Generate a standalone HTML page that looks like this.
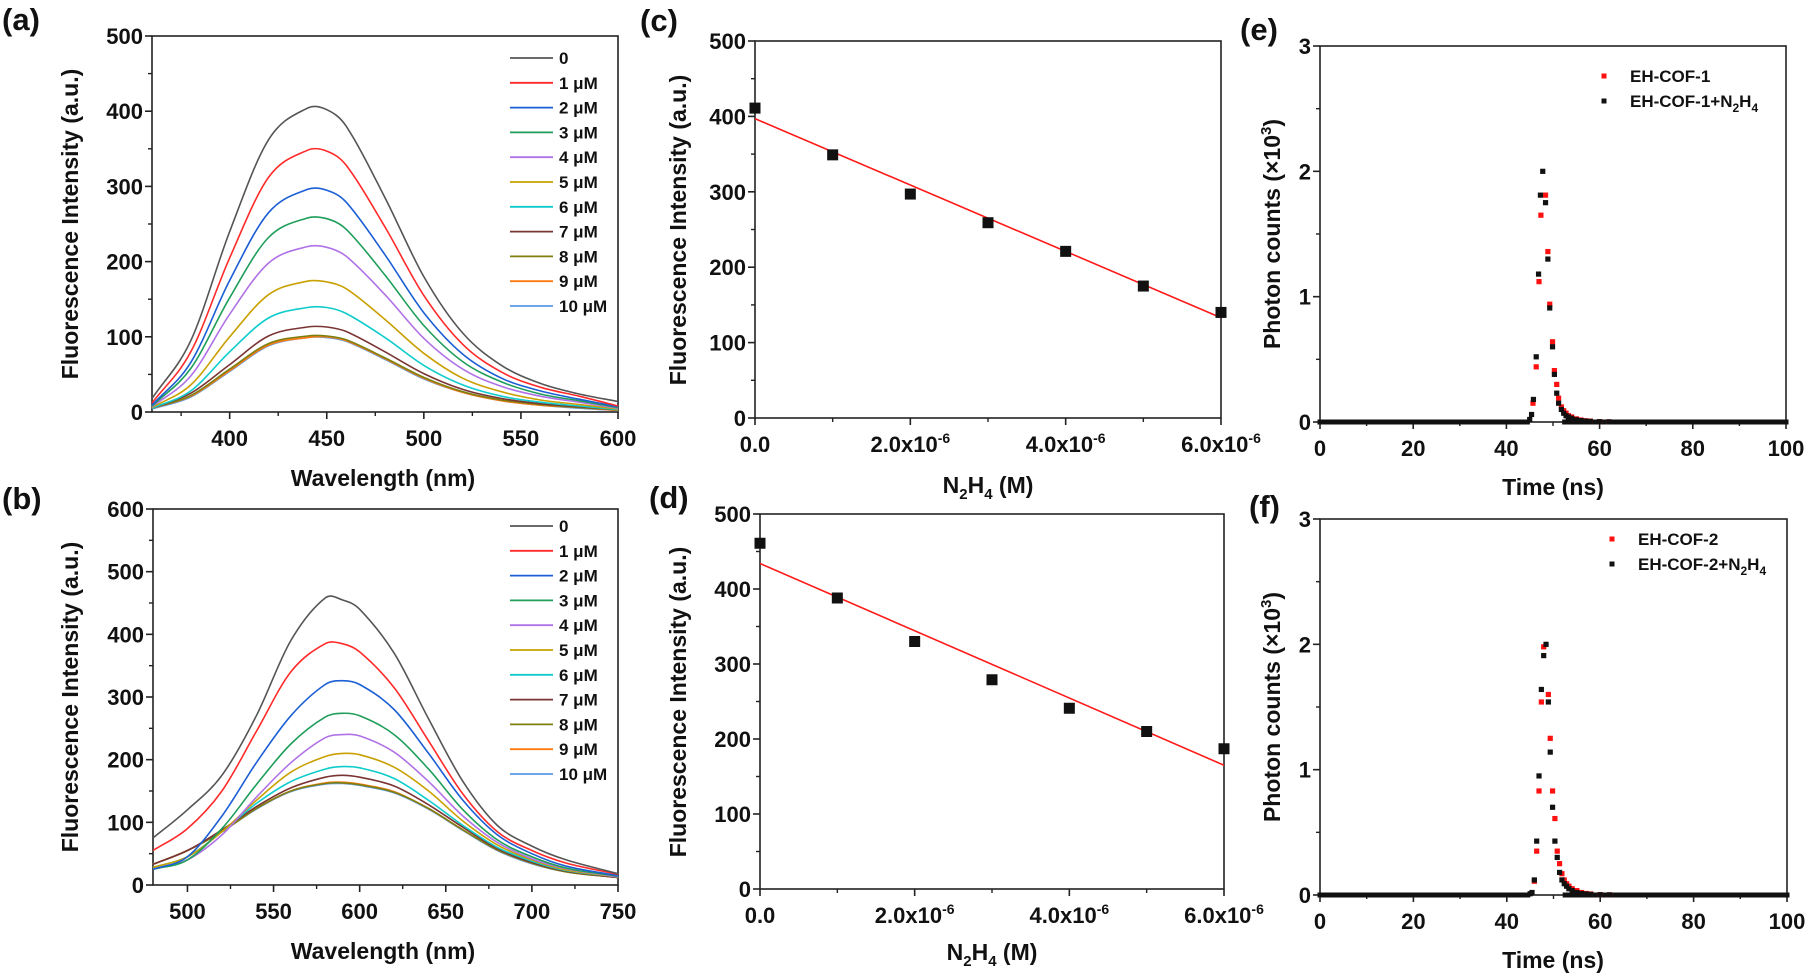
<!DOCTYPE html>
<html><head><meta charset="utf-8">
<style>
html,body{margin:0;padding:0;background:#fff;}
svg{display:block;font-family:"Liberation Sans",Arial,sans-serif;}
</style></head>
<body>
<svg id="fig" width="1808" height="976" viewBox="0 0 1808 976" xmlns="http://www.w3.org/2000/svg"></svg>
<script>
// ---------- Data ----------
const seriesLabels = ["0","1 μM","2 μM","3 μM","4 μM","5 μM","6 μM","7 μM","8 μM","9 μM","10 μM"];
const seriesColors = ["#555555","#ff2a2a","#1c5fd4","#1f9e5a","#b072e6","#c9a000","#10cccc","#7a3434","#7f7f10","#ff7a10","#5a9ae6"];

const aWavelengths = [360,380,400,420,440,450,460,480,500,520,540,560,580,600];
const aS0  = [18,95,240,362,404,402,380,285,180,105,62,38,24,14];
const aS1  = [12,80,205,312,348,347,328,246,155,90,53,33,21,8];
const aS2  = [9,66,175,265,296,295,279,209,132,77,45,28,17,7];
const aS3  = [8,58,152,232,258,257,243,182,115,67,40,24,15,6];
const aS4  = [7,48,130,198,220,219,207,156,98,57,34,21,13,5];
const aS5  = [6,36,100,156,174,173,164,123,78,45,27,16,10,4];
const aS6  = [5,28,80,125,139,139,131,99,62,36,21,13,8,3];
const aS7  = [5,25,63,101,113,113,107,80,51,30,18,11,7,3];
const aS8  = [5,22,57,91,101,101,96,72,46,27,16,10,6,3];
const aS9  = [5,21,55,89,99,100,95,71,45,26,15,9,6,2];
const aS10 = [4,20,54,88,99,99,94,70,44,26,15,9,5,2];

const bWavelengths = [480,500,520,540,560,580,590,600,620,640,660,680,700,720,750];
const bS0  = [75,120,175,270,390,458,455,440,370,265,165,95,62,40,18];
const bS1  = [55,90,150,245,340,385,385,372,315,230,145,85,55,35,17];
const bS2  = [25,45,110,195,270,320,326,320,280,210,135,80,50,30,15];
const bS3  = [25,40,90,160,225,268,274,270,240,185,120,72,45,27,14];
const bS4  = [25,40,80,140,195,235,240,238,212,165,110,68,42,26,13];
const bS5  = [28,45,85,135,180,205,210,208,188,150,102,64,40,24,13];
const bS6  = [28,45,85,130,165,185,189,187,170,135,95,60,38,23,13];
const bS7  = [33,55,88,125,155,172,175,172,158,128,92,58,36,22,12];
const bS8  = [33,55,85,122,150,162,163,160,148,122,88,56,35,21,12];
const bS9  = [33,55,85,122,150,163,164,161,149,122,88,56,35,21,12];
const bS10 = [33,55,85,121,149,161,162,159,147,121,87,55,34,21,12];

const cConc = [0,1,2,3,4,5,6]; // ×1e-6 M
const cIntensity = [411,349,297,259,221,175,140];
const cFit = [397,133]; // fit line at x=0 and x=6
const dConc = [0,1,2,3,4,5,6];
const dIntensity = [461,388,330,279,241,210,187];
const dFit = [434,165];

const eTimeRed = [45.7,46.4,47.0,47.4,48.4,48.9,49.3,49.9,50.3,50.8,51.2,51.8,52.3,52.8,53.3,54,55,56,57,58,60,62];
const eCountRed = [0.15,0.44,1.12,1.65,1.81,1.36,0.94,0.64,0.41,0.30,0.19,0.12,0.09,0.07,0.05,0.04,0.025,0.016,0.01,0.007,0.003,0.001];
const eTimeBlack = [45.0,45.4,45.8,46.4,46.9,47.3,47.8,48.4,48.9,49.3,49.9,50.3,50.8,51.2,51.8,52.3,52.8,53.3,54,55,56,57,58,60,62];
const eCountBlack = [0.02,0.06,0.18,0.52,1.18,1.81,2.0,1.75,1.30,0.91,0.60,0.38,0.23,0.15,0.10,0.07,0.05,0.04,0.03,0.018,0.011,0.007,0.005,0.002,0.001];

const fTimeRed = [45.9,46.4,46.9,47.4,47.9,48.9,49.3,49.8,50.3,50.8,51.3,51.8,52.3,52.8,53.3,54,55,56,57,58,60,62];
const fCountRed = [0.11,0.35,0.83,1.54,1.98,1.60,1.25,0.83,0.61,0.35,0.25,0.17,0.12,0.09,0.07,0.05,0.035,0.02,0.012,0.008,0.003,0.001];
const fTimeBlack = [45.0,45.4,45.9,46.4,46.9,47.4,47.9,48.4,48.9,49.3,49.8,50.3,50.8,51.3,51.8,52.3,52.8,53.3,54,55,56,57,58,60,62];
const fCountBlack = [0.01,0.02,0.12,0.43,0.95,1.64,1.91,2.0,1.54,1.14,0.70,0.43,0.30,0.18,0.12,0.09,0.07,0.05,0.035,0.02,0.012,0.008,0.005,0.002,0.001];

// ---------- Helpers ----------
const NS = "http://www.w3.org/2000/svg";
const svg = document.getElementById('fig');
function mk(tag, attrs, parent){
  const e = document.createElementNS(NS, tag);
  for (const k in attrs) e.setAttribute(k, attrs[k]);
  (parent||svg).appendChild(e);
  return e;
}
function scale(d0,d1,r0,r1){ return v => r0 + (v-d0)/(d1-d0)*(r1-r0); }

// Hermite spline aware of uneven x spacing (pixel space)
function smoothPath(pts){
  const n = pts.length, m = [];
  for (let i=0;i<n;i++){
    const a = pts[Math.max(0,i-1)], b = pts[Math.min(n-1,i+1)];
    m.push((b[1]-a[1])/(b[0]-a[0]));
  }
  let d = "M"+pts[0][0].toFixed(1)+","+pts[0][1].toFixed(1);
  for (let i=0;i<n-1;i++){
    const p1=pts[i], p2=pts[i+1], h=(p2[0]-p1[0])/3;
    d += " C"+(p1[0]+h).toFixed(1)+","+(p1[1]+m[i]*h).toFixed(1)+" "+(p2[0]-h).toFixed(1)+","+(p2[1]-m[i+1]*h).toFixed(1)+" "+p2[0].toFixed(1)+","+p2[1].toFixed(1);
  }
  return d;
}

function axes(g, box, xd, yd, xMajor, xMinor, yMajor, yMinor, xFmt, yFmt){
  const sx = scale(xd[0],xd[1],box.l,box.r), sy = scale(yd[0],yd[1],box.b,box.t);
  const frame = mk('rect',{x:box.l,y:box.t,width:box.r-box.l,height:box.b-box.t,fill:'none',stroke:'#222','stroke-width':1.6},g);
  
  
  const xa = mk('g',{},g);
  
  
  xMinor.forEach(v=>{ mk('line',{x1:sx(v),x2:sx(v),y1:box.b,y2:box.b+4,stroke:'#222','stroke-width':1.4},xa); });
  xMajor.forEach(v=>{
    mk('line',{x1:sx(v),x2:sx(v),y1:box.b,y2:box.b+7,stroke:'#222','stroke-width':1.6},xa);
    const t = mk('text',{x:sx(v),y:box.b+34,'text-anchor':'middle','font-size':22,'font-weight':'bold',fill:'#111'},xa);
    
    
    xFmt(t,v);
  });
  const ya = mk('g',{},g);
  
  
  yMinor.forEach(v=>{ mk('line',{x1:box.l-4,x2:box.l,y1:sy(v),y2:sy(v),stroke:'#222','stroke-width':1.4},ya); });
  yMajor.forEach(v=>{
    mk('line',{x1:box.l-7,x2:box.l,y1:sy(v),y2:sy(v),stroke:'#222','stroke-width':1.6},ya);
    const t = mk('text',{x:box.l-9,y:sy(v)+8,'text-anchor':'end','font-size':22,'font-weight':'bold',fill:'#111'},ya);
    
    
    t.textContent = yFmt(v);
  });
  return {sx,sy};
}
function plainFmt(t,v){ t.textContent = String(v); }
function sciFmt(t,v){
  if (v===0){ t.textContent="0.0"; return; }
  t.appendChild(document.createTextNode(v.toFixed(1)+"x10"));
  const s = mk('tspan',{dy:-9,'font-size':14},t); s.textContent="-6";
}
function panelLabel(txt,x,y,name){
  const t = mk('text',{x:x,y:y,'font-size':31,'font-weight':'bold',fill:'#111'});
  
  
  t.textContent = txt;
}
function yTitle(g,cx,cy,builder){
  const t = mk('text',{x:0,y:0,transform:`translate(${cx},${cy}) rotate(-90)`,'text-anchor':'middle','font-size':23,'font-weight':'bold',fill:'#111'},g);
  
  
  builder(t);
}
function xTitle(g,cx,cy,builder){
  const t = mk('text',{x:cx,y:cy,'text-anchor':'middle','font-size':23,'font-weight':'bold',fill:'#111'},g);
  
  
  builder(t);
}
function n2h4(t, tail){
  t.appendChild(document.createTextNode("N"));
  let s = mk('tspan',{dy:6,'font-size':15},t); s.textContent="2";
  s = mk('tspan',{dy:-6},t); s.textContent="H";
  s = mk('tspan',{dy:6,'font-size':15},t); s.textContent="4";
  s = mk('tspan',{dy:-6},t); s.textContent=tail;
}

// ---------- Spectra panels (a),(b) ----------
function spectra(name, box, xd, yd, xMajor, xMinor, yMajor, yMinor, xs, series, legY){
  const g = mk('g',{});  
  const {sx,sy} = axes(g,box,xd,yd,xMajor,xMinor,yMajor,yMinor,plainFmt,v=>String(v));
  for (let i=series.length-1;i>=0;i--){
    const pts = xs.map((x,j)=>[sx(x),sy(series[i][j])]);
    const p = mk('path',{d:smoothPath(pts),fill:'none',stroke:seriesColors[i],'stroke-width':1.6},g);
    
    
  }
  const lg = mk('g',{},g);  
  seriesLabels.forEach((lab,i)=>{
    const y = legY + i*24.8;
    const e = mk('g',{},lg);
    
    
    mk('line',{x1:510,x2:553,y1:y,y2:y,stroke:seriesColors[i],'stroke-width':1.8},e);
    const t = mk('text',{x:559,y:y+6,'font-size':17,'font-weight':'bold',fill:'#111'},e);
    t.textContent = lab;
  });
  return g;
}
const ga = spectra('panel-a-spectra',{l:152,r:618,t:36,b:412},[360,600],[0,500],[400,450,500,550,600],[375,425,475,525,575],[0,100,200,300,400,500],[50,150,250,350,450],aWavelengths,[aS0,aS1,aS2,aS3,aS4,aS5,aS6,aS7,aS8,aS9,aS10],58);
yTitle(ga,78,224,t=>t.textContent="Fluorescence Intensity (a.u.)");
xTitle(ga,383,486,t=>t.textContent="Wavelength (nm)");
const gb = spectra('panel-b-spectra',{l:153,r:618,t:509,b:885},[480,750],[0,600],[500,550,600,650,700,750],[525,575,625,675,725],[0,100,200,300,400,500,600],[50,150,250,350,450,550],bWavelengths,[bS0,bS1,bS2,bS3,bS4,bS5,bS6,bS7,bS8,bS9,bS10],526);
yTitle(gb,78,697,t=>t.textContent="Fluorescence Intensity (a.u.)");
xTitle(gb,383,959,t=>t.textContent="Wavelength (nm)");

// ---------- Linear fit panels (c),(d) ----------
function linear(name, box, xs, ys, fit){
  const g = mk('g',{});  
  const {sx,sy} = axes(g,box,[0,6],[0,500],[0,2,4,6],[1,3,5],[0,100,200,300,400,500],[50,150,250,350,450],sciFmt,v=>String(v));
  const l = mk('line',{x1:sx(0),y1:sy(fit[0]),x2:sx(6),y2:sy(fit[1]),stroke:'#ff1a1a','stroke-width':1.6},g);
   
  xs.forEach((x,i)=>{
    const r = mk('rect',{x:sx(x)-5.5,y:sy(ys[i])-5.5,width:11,height:11,fill:'#111'},g);
     
  });
  return g;
}
const gc = linear('panel-c-calibration',{l:755,r:1221,t:41,b:418},cConc,cIntensity,cFit);
yTitle(gc,686,230,t=>t.textContent="Fluorescence Intensity (a.u.)");
xTitle(gc,988,493,t=>n2h4(t," (M)"));
const gd = linear('panel-d-calibration',{l:760,r:1224,t:514,b:889},dConc,dIntensity,dFit);
yTitle(gd,686,702,t=>t.textContent="Fluorescence Intensity (a.u.)");
xTitle(gd,992,960,t=>n2h4(t," (M)"));

// ---------- Decay panels (e),(f) ----------
function decay(name, box, tr, cr, tb, cb, legLabel, legX, legY){
  const g = mk('g',{});  
  const {sx,sy} = axes(g,box,[0,100],[0,3],[0,20,40,60,80,100],[10,30,50,70,90],[0,1,2,3],[0.5,1.5,2.5],plainFmt,v=>String(v));
  const bl = mk('g',{},g);  
  for (let t=0;t<=100;t+=0.5){
    if (t>=45 && t<=52) continue;
    mk('rect',{x:sx(t)-2.5,y:sy(0)-2.5,width:5,height:5,fill:'#111'},bl);
  }
  tr.forEach((t,i)=>{
    const r = mk('rect',{x:sx(t)-2.6,y:sy(cr[i])-2.6,width:5.2,height:5.2,fill:'#ff1010'},g);
     
  });
  tb.forEach((t,i)=>{
    const r = mk('rect',{x:sx(t)-2.6,y:sy(cb[i])-2.6,width:5.2,height:5.2,fill:'#111'},g);
     
  });
  const lg = mk('g',{},g);  
  const e1 = mk('g',{},lg);  
  mk('rect',{x:legX-2.5,y:legY-2.5,width:5,height:5,fill:'#ff1010'},e1);
  let t1 = mk('text',{x:legX+26,y:legY+6,'font-size':17,'font-weight':'bold',fill:'#111'},e1); t1.textContent=legLabel;
  const e2 = mk('g',{},lg);  
  mk('rect',{x:legX-2.5,y:legY+25-2.5,width:5,height:5,fill:'#111'},e2);
  let t2 = mk('text',{x:legX+26,y:legY+31,'font-size':17,'font-weight':'bold',fill:'#111'},e2);
  t2.appendChild(document.createTextNode(legLabel+"+N"));
  let s = mk('tspan',{dy:5,'font-size':12},t2); s.textContent="2";
  s = mk('tspan',{dy:-5},t2); s.textContent="H";
  s = mk('tspan',{dy:5,'font-size':12},t2); s.textContent="4";
  return g;
}
function photonTitle(t){
  t.appendChild(document.createTextNode("Photon counts (×10"));
  let s = mk('tspan',{dy:-9,'font-size':15},t); s.textContent="3";
  s = mk('tspan',{dy:9},t); s.textContent=")";
}
const ge = decay('panel-e-decay',{l:1320,r:1786,t:46,b:422},eTimeRed,eCountRed,eTimeBlack,eCountBlack,"EH-COF-1",1604,76);
yTitle(ge,1280,234,photonTitle);
xTitle(ge,1553,495,t=>t.textContent="Time (ns)");
const gf = decay('panel-f-decay',{l:1320,r:1787,t:519,b:895},fTimeRed,fCountRed,fTimeBlack,fCountBlack,"EH-COF-2",1612,539);
yTitle(gf,1280,707,photonTitle);
xTitle(gf,1553,968,t=>t.textContent="Time (ns)");

// ---------- Panel labels ----------
panelLabel("(a)",2,30,'panel-label-a');
panelLabel("(b)",2,509,'panel-label-b');
panelLabel("(c)",640,31,'panel-label-c');
panelLabel("(d)",649,508,'panel-label-d');
panelLabel("(e)",1240,40,'panel-label-e');
panelLabel("(f)",1249,517,'panel-label-f');
</script>
</body></html>
